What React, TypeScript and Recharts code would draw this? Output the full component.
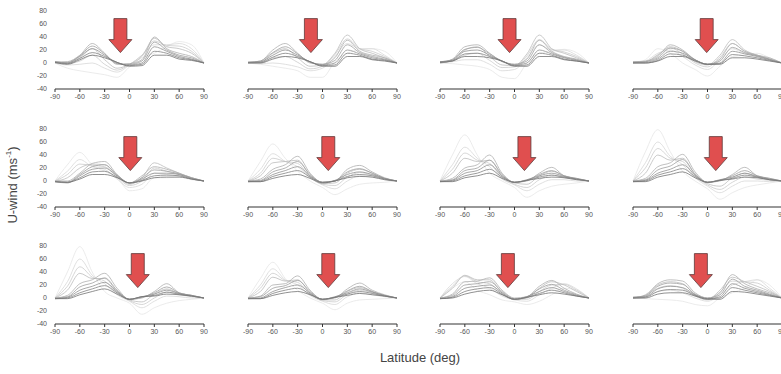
import { LineChart, Line, XAxis, YAxis, ReferenceDot } from 'recharts';

const LATS = [-90, -75, -60, -45, -30, -15, 0, 15, 30, 45, 60, 75, 90];
const X_TICKS = [-90, -60, -30, 0, 30, 60, 90];
const Y_TICKS = [-40, -20, 0, 20, 40, 60, 80];

// one panel = 9 curves, lightest first, values at LATS
const P1 = [
    [0, -8, -12, -15, -18, -22, -6, 8, 15, 25, 33, 28, 0],
    [0, -3, -2, 0, -8, -14, -3, 12, 28, 28, 30, 22, 0],
    [0, -1, 3, 12, -2, -11, -2, 12, 34, 27, 26, 18, 0],
    [0, 0, 8, 22, 5, -8, -2, 10, 38, 25, 22, 15, 0],
    [1, 2, 12, 30, 15, -2, -1, 5, 40, 22, 15, 10, 0],
    [2, 1, 11, 26, 14, -1, -2, 3, 32, 20, 12, 8, 0],
    [2, 0, 10, 22, 12, 0, -3, 0, 25, 18, 10, 6, 0],
    [1, -1, 7, 16, 10, 1, -4, -2, 18, 15, 8, 5, 0],
    [1, -2, 5, 12, 8, 1, -5, -4, 12, 12, 6, 4, 0],
];
const P2 = [
    [0, -2, -5, -8, -12, -22, -22, 2, 15, 20, 22, 18, 0],
    [0, -1, 0, -2, -6, -12, -8, 10, 30, 22, 22, 12, 0],
    [0, 0, 8, 10, 1, -9, -5, 13, 37, 22, 18, 10, 0],
    [0, 1, 15, 22, 8, -5, -3, 15, 43, 22, 15, 8, 0],
    [1, 3, 20, 30, 15, 0, -2, 8, 35, 18, 12, 8, 0],
    [1, 3, 16, 25, 14, 1, -2, 4, 28, 16, 10, 6, 0],
    [1, 2, 12, 20, 12, 2, -3, 0, 20, 14, 8, 5, 0],
    [1, 1, 9, 15, 10, 2, -4, -3, 15, 12, 6, 4, 0],
    [0, 0, 6, 10, 8, 2, -5, -5, 10, 10, 5, 3, 0],
];
const P3 = [
    [0, -1, -3, -5, -10, -22, -24, 0, 15, 18, 21, 16, 0],
    [0, 2, 5, 5, -2, -12, -10, 8, 28, 20, 20, 12, 0],
    [0, 4, 12, 15, 4, -7, -6, 11, 36, 21, 17, 10, 0],
    [0, 5, 20, 25, 10, -3, -4, 14, 43, 22, 15, 8, 0],
    [1, 6, 25, 28, 15, 2, -2, 6, 35, 18, 10, 6, 0],
    [2, 5, 21, 24, 14, 3, -2, 3, 28, 16, 9, 5, 0],
    [2, 4, 18, 20, 12, 3, -3, 0, 20, 14, 8, 4, 0],
    [1, 3, 14, 15, 10, 3, -4, -3, 15, 12, 6, 3, 0],
    [1, 3, 10, 10, 8, 3, -5, -5, 10, 10, 5, 3, 0],
];
const P4 = [
    [0, 5, 22, 15, 0, -10, -20, -5, 10, 12, 15, 8, 0],
    [0, 3, 15, 20, 10, -3, -10, 5, 22, 15, 12, 6, 0],
    [1, 2, 13, 23, 14, 0, -6, 9, 30, 18, 12, 6, 0],
    [1, 2, 12, 25, 18, 2, -3, 12, 36, 20, 12, 6, 0],
    [2, 3, 10, 28, 20, 5, -2, 6, 30, 18, 12, 8, 0],
    [1, 2, 8, 23, 18, 5, -2, 3, 24, 16, 11, 6, 0],
    [1, 1, 6, 18, 15, 5, -2, 0, 18, 14, 10, 5, 0],
    [0, 0, 4, 14, 12, 4, -2, -1, 13, 11, 8, 4, 0],
    [0, 0, 3, 10, 10, 3, -2, -2, 8, 8, 6, 3, 0],
];
const P5 = [
    [0, 25, 44, 25, 15, 5, -15, -12, 5, 5, 6, 2, 0],
    [0, 15, 33, 22, 18, 3, -10, -5, 12, 10, 8, 3, 0],
    [0, 10, 26, 24, 22, 6, -7, 0, 20, 15, 10, 4, 0],
    [0, 5, 20, 26, 25, 8, -5, 5, 28, 20, 12, 5, 0],
    [0, 0, 12, 27, 30, 10, -3, 8, 22, 18, 12, 5, 0],
    [-1, -2, 10, 22, 25, 9, -3, 5, 17, 15, 11, 5, 0],
    [-1, -3, 8, 18, 20, 8, -3, 3, 12, 12, 10, 4, 0],
    [-1, -2, 5, 14, 15, 6, -3, 1, 8, 9, 8, 3, 0],
    [-1, -2, 3, 10, 10, 5, -3, 0, 5, 6, 6, 3, 0],
];
const P6 = [
    [0, 30, 57, 35, 15, 0, -10, -21, -12, -5, -3, -2, 0],
    [0, 18, 42, 30, 22, 5, -6, -12, 0, 8, 6, 2, 0],
    [0, 12, 35, 30, 27, 6, -5, -7, 6, 13, 9, 3, 0],
    [0, 8, 28, 30, 32, 8, -4, -3, 12, 18, 12, 4, 0],
    [0, 3, 18, 25, 38, 12, -2, 0, 18, 24, 14, 5, 0],
    [0, 1, 14, 20, 30, 10, -2, 0, 14, 19, 12, 4, 0],
    [-1, 0, 10, 16, 22, 8, -2, 1, 10, 14, 10, 4, 0],
    [-1, -1, 7, 12, 16, 6, -2, 0, 7, 10, 8, 3, 0],
    [-1, -1, 4, 8, 10, 4, -3, 0, 5, 7, 6, 2, 0],
];
const P7 = [
    [0, 40, 71, 40, 12, 0, -10, -25, -15, -8, -5, -3, 0],
    [0, 25, 52, 35, 22, 3, -6, -15, -5, 2, 2, 0, 0],
    [0, 18, 43, 32, 27, 5, -5, -10, 2, 9, 5, 2, 0],
    [0, 12, 35, 30, 32, 8, -3, -5, 8, 15, 8, 3, 0],
    [0, 4, 20, 25, 40, 12, -2, 0, 12, 21, 8, 4, 0],
    [0, 2, 16, 20, 32, 10, -2, 1, 10, 16, 8, 4, 0],
    [-1, 1, 12, 16, 25, 8, -2, 2, 8, 12, 7, 3, 0],
    [-1, 0, 8, 12, 18, 6, -2, 1, 6, 9, 6, 3, 0],
    [-1, -1, 5, 8, 12, 4, -2, 1, 4, 6, 5, 2, 0],
];
const P8 = [
    [0, 45, 79, 45, 15, 0, -12, -28, -18, -10, -6, -3, 0],
    [0, 28, 60, 38, 25, 5, -8, -18, -8, 0, 0, -1, 0],
    [0, 20, 50, 35, 30, 8, -6, -13, -2, 6, 3, 1, 0],
    [0, 12, 40, 32, 35, 10, -4, -8, 5, 12, 6, 2, 0],
    [0, 4, 22, 28, 41, 14, -2, 0, 10, 21, 8, 4, 0],
    [0, 2, 17, 23, 33, 11, -2, 1, 8, 16, 8, 4, 0],
    [-1, 1, 12, 18, 25, 9, -2, 2, 6, 12, 7, 3, 0],
    [-1, 0, 9, 14, 19, 7, -2, 1, 4, 9, 6, 2, 0],
    [-1, -1, 6, 10, 14, 5, -2, 1, 3, 6, 5, 2, 0],
];
const P9 = [
    [0, 40, 79, 40, 10, 0, -8, -25, -15, -8, -4, -2, 0],
    [0, 25, 60, 35, 22, 5, -5, -15, -5, 3, 2, 0, 0],
    [0, 18, 48, 32, 26, 8, -4, -10, 0, 9, 5, 2, 0],
    [0, 12, 38, 30, 30, 10, -3, -6, 6, 14, 7, 3, 0],
    [0, 4, 22, 28, 38, 15, -2, 0, 10, 22, 8, 4, 0],
    [0, 2, 17, 23, 31, 12, -2, 1, 8, 17, 8, 4, 0],
    [-1, 1, 12, 18, 24, 10, -2, 2, 6, 12, 7, 4, 0],
    [-1, 0, 8, 14, 19, 8, -2, 2, 4, 9, 6, 3, 0],
    [-1, -1, 5, 10, 14, 6, -2, 2, 3, 6, 5, 3, 0],
];
const P10 = [
    [0, 30, 55, 30, 12, 0, -8, -18, -8, -3, -2, -1, 0],
    [0, 20, 45, 28, 20, 4, -5, -10, 2, 8, 5, 2, 0],
    [0, 15, 38, 27, 24, 6, -4, -6, 6, 12, 8, 3, 0],
    [0, 10, 32, 26, 28, 8, -3, -3, 10, 16, 10, 3, 0],
    [0, 3, 20, 22, 34, 12, -2, 0, 14, 23, 12, 5, 0],
    [0, 2, 15, 19, 27, 10, -2, 1, 11, 18, 10, 4, 0],
    [-1, 0, 10, 16, 20, 8, -2, 2, 8, 14, 9, 4, 0],
    [-1, -1, 7, 12, 15, 6, -2, 1, 6, 10, 7, 3, 0],
    [-1, -1, 4, 8, 10, 5, -2, 1, 4, 7, 5, 3, 0],
];
const P11 = [
    [0, 15, 25, 12, 5, -3, -6, -10, -5, 5, 15, 12, 0],
    [0, 22, 33, 22, 15, 3, -3, -5, 5, 15, 22, 14, 0],
    [0, 18, 34, 25, 22, 6, -2, -2, 10, 20, 21, 12, 0],
    [0, 15, 35, 28, 28, 8, -2, 0, 15, 25, 20, 10, 0],
    [0, 6, 25, 26, 31, 12, 0, 2, 18, 27, 15, 6, 0],
    [0, 4, 20, 22, 25, 10, -1, 2, 14, 21, 12, 5, 0],
    [-1, 2, 15, 18, 20, 8, -2, 2, 10, 16, 10, 4, 0],
    [-1, 1, 10, 14, 16, 6, -2, 1, 7, 12, 8, 3, 0],
    [-1, 0, 6, 10, 12, 5, -2, 1, 5, 8, 6, 3, 0],
];
const P12 = [
    [0, -1, -2, -3, -5, -10, -12, 0, 8, 15, 28, 20, 0],
    [0, 2, 10, 12, 8, 0, -5, 5, 20, 25, 28, 15, 0],
    [0, 4, 15, 19, 15, 3, -3, 9, 26, 25, 23, 12, 0],
    [0, 5, 20, 25, 22, 5, -2, 12, 32, 25, 18, 10, 0],
    [1, 4, 22, 28, 26, 8, 0, 8, 36, 22, 14, 8, 0],
    [1, 3, 18, 23, 21, 6, 0, 5, 29, 18, 12, 6, 0],
    [1, 2, 14, 18, 16, 5, -1, 2, 22, 15, 10, 5, 0],
    [0, 1, 10, 13, 12, 4, -1, 0, 16, 12, 8, 4, 0],
    [0, 0, 6, 8, 8, 3, -2, -2, 10, 9, 6, 3, 0],
];

const PANELS = [P1, P2, P3, P4, P5, P6, P7, P8, P9, P10, P11, P12];
const ARROW_LATS = [-11, -14, -6, -1, 1, 7, 12, 10, 10, 7, -8, -8];
const ARROW_TIP = 16;

const LINE_COLORS = ['#e6e6e6', '#d8d8d8', '#cbcbcb', '#bdbdbd', '#afafaf', '#a0a0a0', '#929292', '#838383', '#747474'];

const COL_X = [55, 247.5, 440, 632.5];
const ROW_Y = [11, 129, 246];
const PLOT_W = 149;
const PLOT_H = 78;
const Y_W = 30;

function Arrow(props: any) {
    const { cx, cy } = props;
    const pts = [
        [cx, cy],
        [cx - 11.5, cy - 13],
        [cx - 6.5, cy - 13],
        [cx - 6.5, cy - 34],
        [cx + 6.5, cy - 34],
        [cx + 6.5, cy - 13],
        [cx + 11.5, cy - 13],
    ].map(p => p.join(',')).join(' ');
    return <polygon points={pts} fill="#e04f4f" stroke="#5e3a3a" strokeWidth={0.8} />;
}

function Panel({ idx }: { idx: number }) {
    const lines = PANELS[idx];
    const col = idx % 4;
    const row = Math.floor(idx / 4);
    const data = LATS.map((lat, i) => {
        const d: any = { lat };
        lines.forEach((s, k) => { d['s' + k] = s[i]; });
        return d;
    });
    return (
        <div style={{ position: 'absolute', left: COL_X[col] - Y_W, top: ROW_Y[row] - 5 }}>
            <LineChart width={Y_W + PLOT_W + 12} height={5 + PLOT_H + 22} data={data}
                margin={{ top: 5, right: 12, bottom: 0, left: 0 }}>
                <XAxis dataKey="lat" type="number" domain={[-90, 90]} ticks={X_TICKS} interval={0}
                    tick={{ fontSize: 7, fill: '#555' }} tickSize={3}
                    axisLine={{ stroke: '#333' }} tickLine={{ stroke: '#333' }} height={22} />
                <YAxis type="number" domain={[-40, 80]} ticks={Y_TICKS} interval={0} allowDataOverflow width={Y_W}
                    tick={col === 0 ? { fontSize: 7, fill: '#555' } : false}
                    axisLine={false} tickLine={false} />
                {lines.map((_, k) => (
                    <Line key={k} type="monotone" dataKey={'s' + k} stroke={LINE_COLORS[k]}
                        strokeWidth={0.8} dot={false} isAnimationActive={false} />
                ))}
                <ReferenceDot x={ARROW_LATS[idx]} y={ARROW_TIP} shape={Arrow} />
            </LineChart>
        </div>
    );
}

export default function App() {
    return (
        <div style={{ position: 'absolute', left: 0, top: 0, width: 781, height: 374, overflow: 'hidden',
            background: '#fff', fontFamily: '"Liberation Sans", Arial, sans-serif' }}>
            {PANELS.map((_, i) => <Panel key={i} idx={i} />)}
            <div style={{ position: 'absolute', left: 12, top: 185, transform: 'translate(-50%, -50%) rotate(-90deg)',
                fontSize: 13, color: '#444', whiteSpace: 'nowrap' }}>
                U-wind (ms<sup style={{ fontSize: 8 }}>-1</sup>)
            </div>
            <div style={{ position: 'absolute', left: 420, top: 357, transform: 'translate(-50%, -50%)',
                fontSize: 13, color: '#444', whiteSpace: 'nowrap' }}>
                Latitude (deg)
            </div>
        </div>
    );
}
